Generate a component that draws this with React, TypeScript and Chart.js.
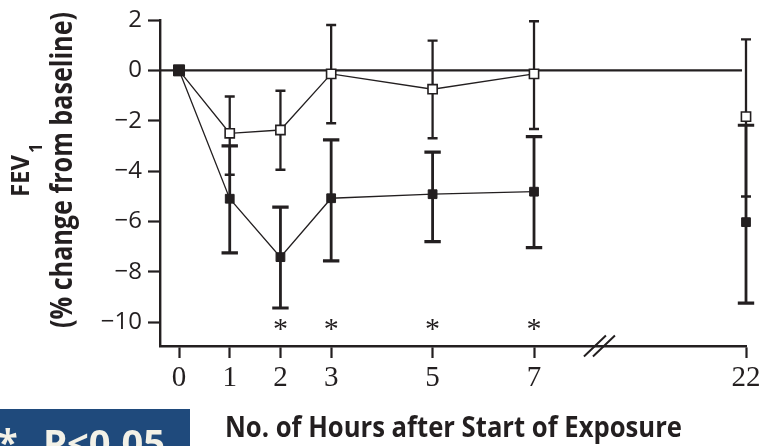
import React, { useEffect, useRef } from 'react';
import { Chart, registerables } from 'chart.js';

Chart.register(...registerables);

// ---- data ----
const hours = [0, 1, 2, 3, 5, 7, 22];
const exposedMean = [0, -5.1, -7.42, -5.08, -4.92, -4.82, -6.03];
const exposedUpper = [0, -3.0, -5.43, -2.76, -3.25, -2.63, -2.18];
const exposedLower = [0, -7.25, -9.44, -7.57, -6.8, -7.04, -9.25];
const controlMean = [0, -2.5, -2.37, -0.14, -0.75, -0.14, -1.84];
const controlUpper = [0, -1.04, -0.81, 1.8, 1.18, 1.95, 1.23];
const controlLower = [0, -4.15, -3.95, -2.1, -2.7, -2.33, -5.01];
const significantHours = [2, 3, 5, 7];
const significanceMarkY = -10.1;
const yTicks = [-10, -8, -6, -4, -2, 0, 2];

// ---- broken axis transform ----
const LAST_CONTINUOUS_HOUR = 7;
const POS_OF_22 = 11.18;
const BREAK_MARK_POS = 8.29;
const axisPos = (h: number) =>
  h <= LAST_CONTINUOUS_HOUR
    ? h
    : LAST_CONTINUOUS_HOUR + ((h - LAST_CONTINUOUS_HOUR) * (POS_OF_22 - LAST_CONTINUOUS_HOUR)) / (22 - LAST_CONTINUOUS_HOUR);

const INK = '#231f20';
const SANS = '"Open Sans", "Noto Sans", sans-serif';

function fitText(ctx: CanvasRenderingContext2D, text: string, x: number, y: number, width: number | null, font: string, rotate = false) {
  ctx.save();
  ctx.font = font;
  ctx.textAlign = 'left';
  ctx.textBaseline = 'alphabetic';
  const w = ctx.measureText(text).width;
  ctx.translate(x, y);
  if (rotate) ctx.rotate(-Math.PI / 2);
  if (width) ctx.scale(width / w, 1);
  ctx.fillText(text, 0, 0);
  ctx.restore();
}

const decorPlugin = {
  id: 'decor',
  beforeDatasetsDraw(chart: any) {
    const ctx: CanvasRenderingContext2D = chart.ctx;
    const xs = chart.scales.x;
    const ys = chart.scales.y;
    const area = chart.chartArea;
    ctx.save();
    // zero reference line
    ctx.strokeStyle = INK;
    ctx.lineWidth = 2.4;
    ctx.beginPath();
    const y0 = ys.getPixelForValue(0);
    ctx.moveTo(area.left, y0);
    ctx.lineTo(xs.getPixelForValue(POS_OF_22) - 4, y0);
    ctx.stroke();
    // error bars
    chart.data.datasets.forEach((ds: any, i: number) => {
      const meta = chart.getDatasetMeta(i);
      meta.data.forEach((pt: any, j: number) => {
        const up = ds.errUpper[j];
        const lo = ds.errLower[j];
        if (up === lo) return;
        const x = pt.x;
        const yu = ys.getPixelForValue(up);
        const yl = ys.getPixelForValue(lo);
        ctx.strokeStyle = INK;
        ctx.lineWidth = ds.errWidth;
        ctx.beginPath();
        ctx.moveTo(x, yu);
        ctx.lineTo(x, yl);
        ctx.stroke();
        ctx.lineWidth = ds.capThickness;
        ctx.beginPath();
        ctx.moveTo(x - ds.capHalf, yu);
        ctx.lineTo(x + ds.capHalf, yu);
        ctx.moveTo(x - ds.capHalf, yl);
        ctx.lineTo(x + ds.capHalf, yl);
        ctx.stroke();
      });
    });
    ctx.restore();
  },
  afterDraw(chart: any) {
    const ctx: CanvasRenderingContext2D = chart.ctx;
    const xs = chart.scales.x;
    const ys = chart.scales.y;
    const area = chart.chartArea;
    ctx.save();
    ctx.fillStyle = INK;
    // significance asterisks
    ctx.font = '30px "Liberation Serif", serif';
    ctx.textAlign = 'center';
    ctx.textBaseline = 'alphabetic';
    const m = ctx.measureText('*');
    const off = (m.actualBoundingBoxAscent - m.actualBoundingBoxDescent) / 2;
    significantHours.forEach((h) => {
      ctx.fillText('*', xs.getPixelForValue(axisPos(h)), ys.getPixelForValue(significanceMarkY) + off);
    });
    // axis break marks
    const bx = xs.getPixelForValue(BREAK_MARK_POS);
    const by = area.bottom;
    ctx.strokeStyle = INK;
    ctx.lineWidth = 2;
    ctx.beginPath();
    [-4.5, 4.5].forEach((d) => {
      ctx.moveTo(bx + d - 11, by + 10.5);
      ctx.lineTo(bx + d + 11, by - 10.5);
    });
    ctx.stroke();
    // y-axis title
    fitText(ctx, 'FEV', 28.5, 197, 42, `bold 25px ${SANS}`, true);
    fitText(ctx, '1', 42, 153, null, `bold 17px ${SANS}`, true);
    fitText(ctx, '(% change from baseline)', 71.5, 328, 316, `bold 30px ${SANS}`, true);
    // x-axis title
    fitText(ctx, 'No. of Hours after Start of Exposure', 225, 436.7, 457, `bold 28px ${SANS}`);
    // significance key box
    ctx.fillStyle = '#1f4a7c';
    ctx.fillRect(0, 409, 190, 40);
    ctx.fillStyle = '#f3f1e7';
    fitText(ctx, '*', -2, 455, null, `bold 36px ${SANS}`);
    fitText(ctx, 'P<0.05', 43, 456, 122, `bold 36px ${SANS}`);
    ctx.restore();
  },
};

export default function App() {
  const ref = useRef<HTMLCanvasElement | null>(null);
  useEffect(() => {
    if (!ref.current) return;
    const seg = (ctx: any) => (hours[ctx.p1DataIndex] > LAST_CONTINUOUS_HOUR ? 'rgba(0,0,0,0)' : INK);
    const chart = new Chart(ref.current, {
      type: 'line',
      data: {
        datasets: [
          {
            label: 'Exposure',
            data: hours.map((h, i) => ({ x: axisPos(h), y: exposedMean[i] })),
            borderColor: INK,
            borderWidth: 1.3,
            segment: { borderColor: seg },
            pointStyle: 'rect',
            pointRadius: hours.map((h) => (h === 0 ? 7.8 : 6.2)),
            pointBackgroundColor: INK,
            pointBorderColor: INK,
            pointBorderWidth: 1,
            tension: 0,
            clip: false,
            errUpper: exposedUpper,
            errLower: exposedLower,
            errWidth: 2.8,
            capThickness: 3.2,
            capHalf: 8.2,
          } as any,
          {
            label: 'Control',
            data: hours.map((h, i) => ({ x: axisPos(h), y: controlMean[i] })),
            borderColor: INK,
            borderWidth: 1.3,
            segment: { borderColor: seg },
            pointStyle: 'rect',
            pointRadius: 6.5,
            pointBackgroundColor: '#ffffff',
            pointBorderColor: INK,
            pointBorderWidth: 1.6,
            tension: 0,
            clip: false,
            errUpper: controlUpper,
            errLower: controlLower,
            errWidth: 2.3,
            capThickness: 2.4,
            capHalf: 5,
          } as any,
        ],
      },
      options: {
        animation: false,
        responsive: false,
        devicePixelRatio: 1,
        events: [],
        layout: { padding: { left: 0, top: 20, right: 15, bottom: 0 } },
        plugins: { legend: { display: false }, tooltip: { enabled: false } },
        scales: {
          x: {
            type: 'linear',
            min: -0.375,
            max: POS_OF_22,
            afterBuildTicks: (scale: any) => {
              scale.ticks = hours.map((h) => ({ value: axisPos(h) }));
            },
            afterFit: (scale: any) => {
              scale.height = 100;
              scale.paddingLeft = 0;
              scale.paddingRight = 0;
            },
            ticks: {
              autoSkip: false,
              maxRotation: 0,
              padding: 3,
              color: INK,
              font: { family: '"Liberation Serif", serif', size: 29 },
              callback: (_v: any, i: number) => String(hours[i]),
            },
            grid: { drawOnChartArea: false, drawTicks: true, tickLength: 12, tickWidth: 2.2, tickColor: INK },
            border: { display: true, color: INK, width: 2.4 },
          },
          y: {
            type: 'linear',
            min: -10.95,
            max: 2,
            afterBuildTicks: (scale: any) => {
              scale.ticks = yTicks.map((v) => ({ value: v }));
            },
            afterFit: (scale: any) => {
              scale.width = 160;
              scale.paddingTop = 0;
              scale.paddingBottom = 0;
            },
            ticks: {
              padding: 6,
              color: INK,
              font: { family: SANS, size: 24 },
              callback: (v: any) => (Number(v) < 0 ? '\u2212' + Math.abs(Number(v)) : String(v)),
            },
            grid: { drawOnChartArea: false, drawTicks: true, tickLength: 12, tickWidth: 2.2, tickColor: INK },
            border: { display: true, color: INK, width: 2.4 },
          },
        },
      },
      plugins: [decorPlugin],
    } as any);
    return () => chart.destroy();
  }, []);
  return (
    <div style={{ position: 'fixed', left: 0, top: 0, width: 761, height: 446, background: '#fff' }}>
      <canvas ref={ref} width={761} height={446} style={{ display: 'block', width: 761, height: 446 }} />
    </div>
  );
}
